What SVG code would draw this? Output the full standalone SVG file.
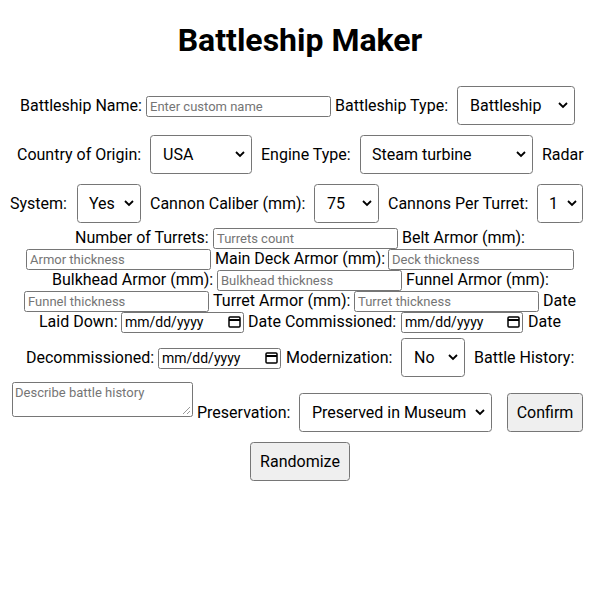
<svg xmlns="http://www.w3.org/2000/svg" width="600" height="600" viewBox="0 0 600 600">
<style>
text{font-family:Roboto,"Liberation Sans",sans-serif;fill:#000}
.l{font-size:16px}
.t{font-size:32px;font-weight:bold}
.p{font-size:13px;fill:#757575}
.inp{fill:#fff;stroke:#767676;stroke-width:1}
.sel{fill:#fff;stroke:#767676;stroke-width:1}
.btn{fill:#efefef;stroke:#767676;stroke-width:1}
.chev{fill:none;stroke:#000;stroke-width:1.8}
.cal{fill:none;stroke:#000;stroke-width:1.5}
</style>
<defs>
<path id="chev" class="chev" d="M-4,-2 L0,2 L4,-2"/>
<g id="cal"><rect x="-5" y="-5" width="11" height="10" class="cal" rx="1"/><line x1="-5" y1="-2" x2="6" y2="-2" stroke="#000" stroke-width="2"/></g>
</defs>
<rect width="600" height="600" fill="#fff"/>
<text class="t" x="300" y="51" text-anchor="middle">Battleship Maker</text>
<g id="row1">
<text class="l" x="20" y="111">Battleship Name:</text>
<rect class="inp" x="146.5" y="96.5" width="184" height="20" rx="2"/><text class="p" x="150" y="111">Enter custom name</text>
<text class="l" x="335" y="111">Battleship Type:</text>
<rect class="sel" x="457.5" y="86.5" width="117" height="38" rx="3"/><text class="l" x="470" y="111">Battleship</text><use href="#chev" x="563" y="105"/>
</g>
<g id="row2">
<text class="l" x="17" y="160">Country of Origin:</text>
<rect class="sel" x="150.5" y="135.5" width="101" height="38" rx="3"/><text class="l" x="163" y="160">USA</text><use href="#chev" x="240" y="154"/>
<text class="l" x="261" y="160">Engine Type:</text>
<rect class="sel" x="360.5" y="135.5" width="172" height="38" rx="3"/><text class="l" x="372" y="160">Steam turbine</text><use href="#chev" x="521" y="154"/>
<text class="l" x="542" y="160">Radar</text>
</g>
<g id="row3">
<text class="l" x="10" y="209">System:</text>
<rect class="sel" x="77.5" y="184.5" width="63" height="38" rx="3"/><text class="l" x="89" y="209">Yes</text><use href="#chev" x="129" y="203"/>
<text class="l" x="150" y="209">Cannon Caliber (mm):</text>
<rect class="sel" x="314.5" y="184.5" width="64" height="38" rx="3"/><text class="l" x="327" y="209">75</text><use href="#chev" x="367" y="203"/>
<text class="l" x="388" y="209">Cannons Per Turret:</text>
<rect class="sel" x="537.5" y="184.5" width="45" height="38" rx="3"/><text class="l" x="549" y="209">1</text><use href="#chev" x="572" y="203"/>
</g>
<g id="row4">
<text class="l" x="75" y="243">Number of Turrets:</text>
<rect class="inp" x="213.5" y="228.5" width="184" height="20" rx="2"/><text class="p" x="217" y="243">Turrets count</text>
<text class="l" x="402" y="243">Belt Armor (mm):</text>
</g>
<g id="row5">
<rect class="inp" x="26.5" y="249.5" width="184" height="20" rx="2"/><text class="p" x="30" y="264">Armor thickness</text>
<text class="l" x="215" y="264">Main Deck Armor (mm):</text>
<rect class="inp" x="388.5" y="249.5" width="185" height="20" rx="2"/><text class="p" x="392" y="264">Deck thickness</text>
</g>
<g id="row6">
<text class="l" x="52" y="285">Bulkhead Armor (mm):</text>
<rect class="inp" x="217.5" y="270.5" width="184" height="20" rx="2"/><text class="p" x="221" y="285">Bulkhead thickness</text>
<text class="l" x="406" y="285">Funnel Armor (mm):</text>
</g>
<g id="row7">
<rect class="inp" x="24.5" y="291.5" width="184" height="20" rx="2"/><text class="p" x="28" y="306">Funnel thickness</text>
<text class="l" x="213" y="306">Turret Armor (mm):</text>
<rect class="inp" x="354.5" y="291.5" width="184" height="20" rx="2"/><text class="p" x="358" y="306">Turret thickness</text>
<text class="l" x="543" y="306">Date</text>
</g>
<g id="row8">
<text class="l" x="39" y="327">Laid Down:</text>
<rect class="inp" x="121.5" y="312.5" width="122" height="20" rx="2"/><text x="125" y="327" style="font-size:14px">mm/dd/yyyy</text><use href="#cal" x="234" y="322"/>
<text class="l" x="248" y="327">Date Commissioned:</text>
<rect class="inp" x="401.5" y="312.5" width="121" height="20" rx="2"/><text x="405" y="327" style="font-size:14px">mm/dd/yyyy</text><use href="#cal" x="513" y="322"/>
<text class="l" x="528" y="327">Date</text>
</g>
<g id="row9">
<text class="l" x="26" y="363">Decommissioned:</text>
<rect class="inp" x="158.5" y="348.5" width="122" height="20" rx="2"/><text x="162" y="363" style="font-size:14px">mm/dd/yyyy</text><use href="#cal" x="271" y="358"/>
<text class="l" x="286" y="363">Modernization:</text>
<rect class="sel" x="401.5" y="338.5" width="63" height="38" rx="3"/><text class="l" x="414" y="363">No</text><use href="#chev" x="453" y="357"/>
<text class="l" x="474" y="363">Battle History:</text>
</g>
<g id="row10">
<rect class="inp" x="12.5" y="382.5" width="180" height="34" rx="2"/><text class="p" x="15" y="397">Describe battle history</text>
<path d="M183,414 L190,407 M187,414 L190,411" stroke="#999" stroke-width="1"/>
<text class="l" x="197" y="418">Preservation:</text>
<rect class="sel" x="299.5" y="393.5" width="192" height="38" rx="3"/><text class="l" x="312" y="418">Preserved in Museum</text><use href="#chev" x="480" y="412"/>
<rect class="btn" x="507.5" y="393.5" width="75" height="38" rx="3"/><text class="l" x="545" y="418" text-anchor="middle">Confirm</text>
</g>
<g id="row11">
<rect class="btn" x="250.5" y="442.5" width="99" height="38" rx="3"/><text class="l" x="300" y="467" text-anchor="middle">Randomize</text>
</g>
</svg>
